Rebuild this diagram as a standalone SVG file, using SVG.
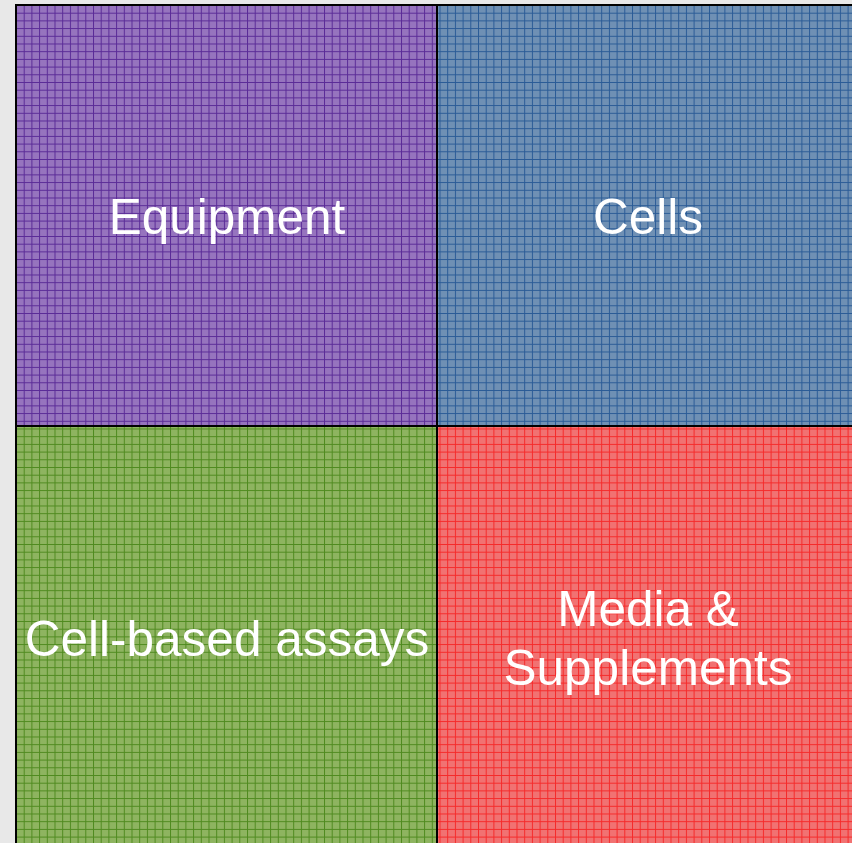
<svg xmlns="http://www.w3.org/2000/svg" width="852" height="843" viewBox="0 0 852 843">
<style>
.lbl{font-family:"Liberation Sans",Arial,sans-serif;font-size:49.5px;fill:#ffffff;text-anchor:middle}
.box{stroke:#000000;stroke-width:2}
</style>
<defs>
<pattern id="gp" x="16" y="5" width="7.7" height="7.7" patternUnits="userSpaceOnUse">
<rect width="7.7" height="7.7" fill="#9674be"/>
<path d="M0 0.5H7.7M0.5 0V7.7" stroke="#5a2b97" stroke-width="1"/>
</pattern>
<pattern id="gb" x="16" y="5" width="7.7" height="7.7" patternUnits="userSpaceOnUse">
<rect width="7.7" height="7.7" fill="#6f90b4"/>
<path d="M0 0.5H7.7M0.5 0V7.7" stroke="#2a5b96" stroke-width="1"/>
</pattern>
<pattern id="gg" x="16" y="5" width="7.7" height="7.7" patternUnits="userSpaceOnUse">
<rect width="7.7" height="7.7" fill="#8eb460"/>
<path d="M0 0.5H7.7M0.5 0V7.7" stroke="#4f8a1f" stroke-width="1"/>
</pattern>
<pattern id="gr" x="16" y="5" width="7.7" height="7.7" patternUnits="userSpaceOnUse">
<rect width="7.7" height="7.7" fill="#f17272"/>
<path d="M0 0.5H7.7M0.5 0V7.7" stroke="#f52a2a" stroke-width="1"/>
</pattern>
</defs>
<rect width="852" height="843" fill="#e8e8e8"/>
<g id="equipment">
<rect class="box" x="16" y="5" width="421" height="421" fill="url(#gp)"/>
<text class="lbl" x="227" y="234">Equipment</text>
</g>
<g id="cells">
<rect class="box" x="437" y="5" width="421" height="421" fill="url(#gb)"/>
<text class="lbl" x="648" y="234">Cells</text>
</g>
<g id="assays">
<rect class="box" x="16" y="426" width="421" height="421" fill="url(#gg)"/>
<text class="lbl" x="227" y="656">Cell-based assays</text>
</g>
<g id="media">
<rect class="box" x="437" y="426" width="421" height="421" fill="url(#gr)"/>
<text class="lbl" x="648" y="626">Media &amp;</text>
<text class="lbl" x="648" y="685">Supplements</text>
</g>
<g id="connectors"/>
</svg>
